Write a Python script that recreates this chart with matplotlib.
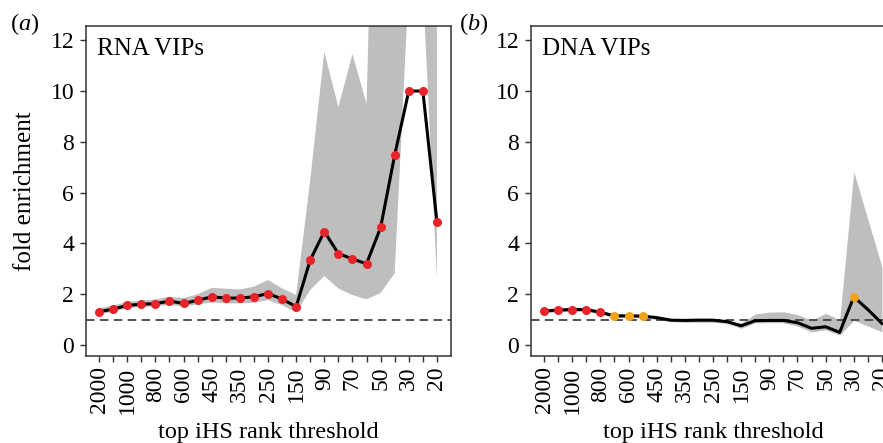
import matplotlib
matplotlib.use('Agg')
import matplotlib.pyplot as plt
import numpy as np

# Rank thresholds on the x axis (only every other one is labelled)
thresholds = ['2000', '1500', '1000', '900', '800', '700', '600', '500', '450', '400',
              '350', '300', '250', '200', '150', '100', '90', '80', '70', '60',
              '50', '40', '30', '25', '20']

# RNA VIPs: fold enrichment, band limits, significance level (2 = red, 1 = orange, 0 = none)
rna_fold = [1.31, 1.42, 1.56, 1.61, 1.63, 1.73, 1.64, 1.76, 1.90, 1.85,
            1.85, 1.90, 2.03, 1.81, 1.51, 3.35, 4.47, 3.60, 3.39, 3.20,
            4.63, 7.48, 10.0, 10.0, 4.85]
rna_hi = [1.45, 1.55, 1.70, 1.75, 1.80, 1.90, 1.85, 2.00, 2.25, 2.22,
          2.19, 2.30, 2.56, 2.23, 1.97, 6.50, 11.55, 9.36, 11.46, 9.50,
          30.0, 30.0, 30.0, 30.0, 30.0]
rna_lo = [1.20, 1.32, 1.45, 1.50, 1.52, 1.58, 1.52, 1.60, 1.68, 1.64,
          1.64, 1.66, 1.77, 1.57, 1.28, 2.17, 2.72, 2.23, 1.97, 1.80,
          2.05, 2.83, 14.2, 14.2, 2.60]
rna_sig = [2] * 25

# DNA VIPs
dna_fold = [1.34, 1.38, 1.40, 1.40, 1.29, 1.15, 1.15, 1.14, 1.08, 0.98,
            0.97, 0.98, 0.98, 0.92, 0.76, 0.96, 0.97, 0.97, 0.88, 0.66,
            0.72, 0.50, 1.90, 1.40, 0.85]
dna_hi = [1.42, 1.45, 1.47, 1.47, 1.36, 1.22, 1.21, 1.20, 1.14, 1.04,
          1.05, 1.06, 1.05, 1.00, 0.86, 1.22, 1.30, 1.31, 1.20, 0.98,
          1.25, 1.00, 6.82, 4.95, 3.08]
dna_lo = [1.27, 1.31, 1.33, 1.33, 1.22, 1.08, 1.08, 1.07, 1.01, 0.92,
          0.90, 0.90, 0.90, 0.85, 0.66, 0.88, 0.88, 0.88, 0.75, 0.52,
          0.60, 0.39, 0.98, 0.75, 0.52]
dna_sig = [2, 2, 2, 2, 2, 1, 1, 1, 0, 0, 0, 0, 0, 0, 0, 0, 0, 0, 0, 0, 0, 0, 1, 0, 0]

### Style
plt.rcParams['font.family'] = 'Liberation Serif'
plt.rcParams['mathtext.fontset'] = 'custom'
plt.rcParams['mathtext.rm'] = 'Liberation Serif'
plt.rcParams['mathtext.it'] = 'Liberation Serif:italic'
fs = 17
sig_colors = {2: '#e8232a', 1: '#f5a21b'}

fig = plt.figure(figsize=(8.83, 4.43), dpi=100)
W, H = 883.0, 443.0
ax_a = fig.add_axes([86/W, (H-356)/H, 365/W, 330/H])
ax_b = fig.add_axes([531/W, (H-356)/H, 365/W, 330/H])

panels = [(ax_a, rna_fold, rna_lo, rna_hi, rna_sig, 'RNA VIPs'),
          (ax_b, dna_fold, dna_lo, dna_hi, dna_sig, 'DNA VIPs')]

x = np.arange(len(thresholds))
for ax, fold, lo, hi, sig, name in panels:
    ax.fill_between(x, lo, hi, color='#bebebe', lw=0, zorder=1)
    ax.axhline(1, color='#444444', lw=1.3, dashes=(4.7, 3.0), zorder=2)
    ax.plot(x, fold, color='black', lw=2.2, zorder=3, solid_joinstyle='round')
    sig = np.array(sig)
    fold = np.array(fold)
    for lvl, col in sig_colors.items():
        m = sig == lvl
        ax.plot(x[m], fold[m], 'o', color=col, ms=6.5, mew=0, zorder=4)

    ax.set_xlim(-0.93, 25.0)
    ax.set_ylim(-0.43, 12.56)
    ax.set_yticks([0, 2, 4, 6, 8, 10, 12])
    ax.set_xticks(x)
    ax.set_xticklabels([t if i % 2 == 0 else '' for i, t in enumerate(thresholds)],
                       rotation=90)
    ax.tick_params(axis='both', labelsize=fs, length=4.5, width=1, color='#333333')
    ax.tick_params(axis='x', pad=3)
    ax.tick_params(axis='y', pad=4)
    for sp in ax.spines.values():
        sp.set_color('#333333')
        sp.set_linewidth(1.1)

    ax.set_xlabel('top iHS rank threshold', fontsize=17.5)
    ax.xaxis.set_label_coords(0.5, -0.2)
    ax.text(0.03, 0.965, name, transform=ax.transAxes, fontsize=18, va='top', ha='left')

ax_a.set_ylabel('fold enrichment', fontsize=18)
ax_a.yaxis.set_label_coords(-0.137, 0.5)

fig.text(10/W, 1 - 30/H, '($a$)', fontsize=17.5, ha='left', va='baseline')
fig.text(459/W, 1 - 30/H, '($b$)', fontsize=17.5, ha='left', va='baseline')

fig.savefig('out.png', dpi=100)
